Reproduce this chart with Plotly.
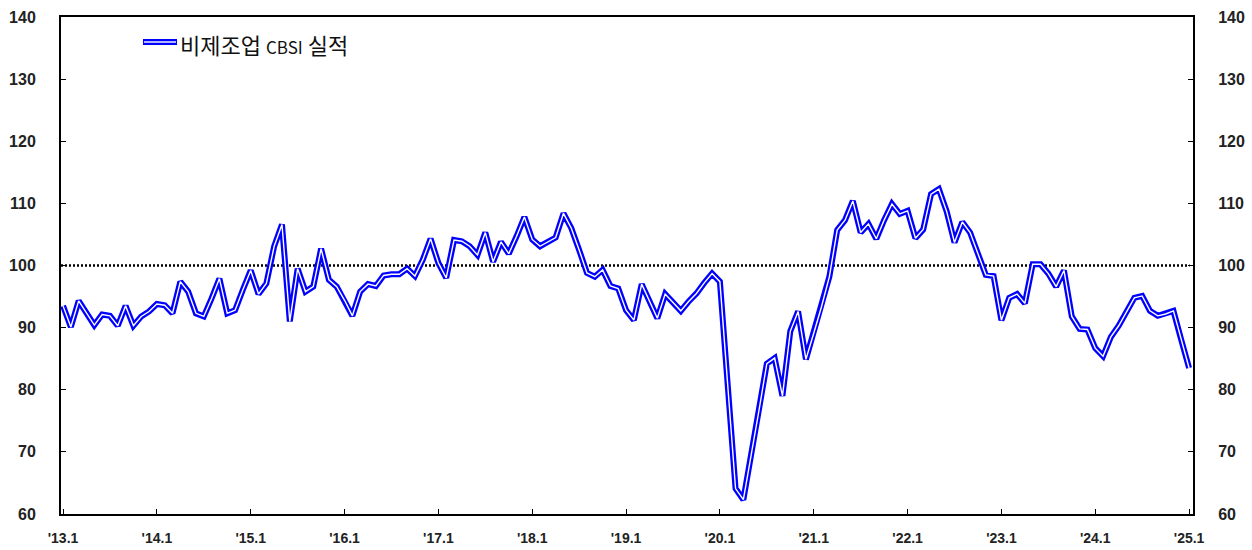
import plotly.graph_objects as go

# Monthly index, 2013.1 – 2025.1
tick_labels = ["'13.1", "'14.1", "'15.1", "'16.1", "'17.1", "'18.1", "'19.1",
               "'20.1", "'21.1", "'22.1", "'23.1", "'24.1", "'25.1"]

v2013 = [93.5, 90.1, 94.3, 92.3, 90.4, 92.1, 91.9, 90.3, 93.5, 90.3, 91.8, 92.6]
v2014 = [93.8, 93.6, 92.3, 97.4, 95.8, 92.3, 91.8, 94.7, 97.9, 92.3, 92.8, 96.1]
v2015 = [99.2, 95.4, 97.1, 103.1, 106.6, 91.0, 99.5, 95.8, 96.6, 102.7, 97.7, 96.6]
v2016 = [94.4, 91.9, 95.8, 97.0, 96.7, 98.4, 98.6, 98.6, 99.5, 98.3, 100.9, 104.3]
v2017 = [100.4, 98.0, 104.1, 103.9, 103.1, 101.7, 105.3, 100.6, 103.8, 101.9, 104.7, 107.8]
v2018 = [104.2, 103.1, 103.8, 104.5, 108.4, 106.0, 102.5, 98.8, 98.2, 99.3, 96.7, 96.3]
v2019 = [92.8, 91.2, 97.0, 94.2, 91.5, 95.4, 94.0, 92.7, 94.2, 95.5, 97.2, 98.7]
v2020 = [97.4, 81.2, 64.1, 62.3, 69.3, 76.7, 84.2, 85.1, 79.0, 89.4, 92.6, 84.9]
v2021 = [89.1, 93.4, 98.2, 105.7, 107.3, 110.4, 105.3, 106.7, 104.3, 107.3, 109.9, 108.3]
v2022 = [108.8, 104.4, 105.8, 111.5, 112.3, 108.7, 103.7, 107.0, 105.3, 101.9, 98.5, 98.3]
v2023 = [91.2, 94.8, 95.4, 93.9, 100.2, 100.2, 98.7, 96.6, 99.2, 91.8, 89.8, 89.7]
v2024 = [86.7, 85.4, 88.5, 90.3, 92.6, 94.8, 95.1, 92.7, 91.9, 92.2, 92.7, 88.0]
v2025 = [83.5]

cbsi = (v2013 + v2014 + v2015 + v2016 + v2017 + v2018 + v2019 + v2020 +
        v2021 + v2022 + v2023 + v2024 + v2025)
months = list(range(len(cbsi)))
tick_pos = [12 * k for k in range(len(tick_labels))]
ref_level = 100

series_name = "비제조업 CBSI 실적"
BLUE = "#0000FF"

fig = go.Figure()
# double line: thick blue with thin white core
fig.add_trace(go.Scatter(x=months, y=cbsi, mode="lines", name=series_name,
                         line=dict(color=BLUE, width=6), hoverinfo="skip",
                         showlegend=False))
fig.add_trace(go.Scatter(x=months, y=cbsi, mode="lines",
                         line=dict(color="white", width=1.4), hoverinfo="skip",
                         showlegend=False))
# invisible trace to activate right axis
fig.add_trace(go.Scatter(x=months, y=cbsi, mode="lines", yaxis="y2",
                         line=dict(color="rgba(0,0,0,0)", width=0),
                         hoverinfo="skip", showlegend=False))

fig.add_shape(type="line", xref="paper", yref="y", x0=0, x1=0.997,
              y0=ref_level, y1=ref_level,
              line=dict(color="black", width=2.5, dash="2px,2px"), layer="below")

# custom legend
PW, PH = 1132, 497
ly = (514 - 42) / PH
fig.add_shape(type="line", xref="paper", yref="paper",
              x0=(143 - 61) / PW, x1=(177 - 61) / PW, y0=ly, y1=ly,
              line=dict(color=BLUE, width=6))
fig.add_shape(type="line", xref="paper", yref="paper",
              x0=(144 - 61) / PW, x1=(176 - 61) / PW, y0=ly, y1=ly,
              line=dict(color="white", width=1.4))
fig.add_annotation(xref="paper", yref="paper",
                   x=(178 - 61) / PW, y=(514 - 44) / PH,
                   xanchor="left", yanchor="middle", showarrow=False,
                   text="비제조업 <span style='font-size:17px'>CBSI</span> 실적",
                   font=dict(family="Noto Sans CJK KR", size=22, color="#111111"))

tickfont_y = dict(family="Liberation Sans", size=16, color="#222222", weight="bold")
tickfont_x = dict(family="Liberation Sans", size=14, color="#222222", weight="bold")

yaxis_common = dict(range=[60, 140], dtick=10, tick0=60, showgrid=False,
                    zeroline=False, showline=True, linecolor="black", linewidth=2,
                    ticks="inside", ticklen=5, tickwidth=1, tickcolor="black",
                    tickfont=tickfont_y, ticklabelstandoff=20, automargin=False)

fig.update_layout(
    width=1252, height=550,
    margin=dict(l=61, r=59, t=17, b=36, autoexpand=False),
    plot_bgcolor="white", paper_bgcolor="white",
    showlegend=False,
    xaxis=dict(range=[-0.26, 144.5], tickvals=tick_pos, ticktext=tick_labels,
               showgrid=False, zeroline=False, showline=True, mirror=True,
               linecolor="black", linewidth=2, ticks="inside", ticklen=5,
               tickwidth=1, tickcolor="black", tickfont=tickfont_x,
               ticklabelstandoff=10, automargin=False),
    yaxis=dict(side="left", **yaxis_common),
    yaxis2=dict(side="right", overlaying="y", **yaxis_common),
)

fig.write_html("out.html", config={"displayModeBar": False},
               post_script="document.body.style.margin='0';document.body.style.padding='0';")
